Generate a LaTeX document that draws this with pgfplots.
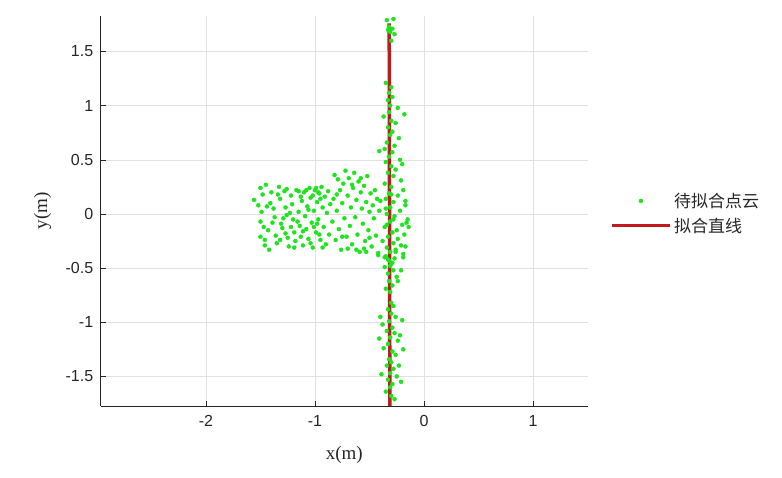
\documentclass[border=0pt]{standalone}
\usepackage{pgfplots}
\pgfplotsset{compat=1.18}
\usepackage{fontspec}
\setmainfont{Liberation Sans}
\newfontfamily\seriffont{Liberation Serif}
\newfontfamily\cjk{Noto Sans CJK SC}
\definecolor{ptgreen}{RGB}{30,228,30}
\definecolor{linered}{RGB}{195,24,28}
\definecolor{txt}{RGB}{38,38,38}
\definecolor{gridc}{RGB}{225,225,225}
\pgfplotsset{
  markleg/.style={legend image code/.code={\draw[##1, mark repeat=2, mark phase=2] plot coordinates {(0pt,0pt) (29pt,0pt) (58pt,0pt)};}},
  lineleg/.style={legend image code/.code={\draw[##1] (0pt,0pt) -- (58pt,0pt);}},
}
\begin{document}
\begin{tikzpicture}
\useasboundingbox (-100.7pt,-72pt) rectangle (681.3pt,406pt);
\begin{axis}[
  scale only axis,
  width=487.3pt, height=390pt,
  xmin=-2.966, xmax=1.505,
  ymin=-1.773, ymax=1.828,
  axis lines*=left,
  axis line style={txt, line width=0.8pt},
  xtick={-2,-1,0,1},
  ytick={-1.5,-1,-0.5,0,0.5,1,1.5},
  yticklabels={-1.5,-1,-0.5,0,0.5,1,1.5},
  xticklabels={-2,-1,0,1},
  tick align=inside,
  major tick length=5pt,
  tick style={txt, line width=0.6pt},
  grid=major,
  major grid style={gridc, line width=0.6pt},
  /pgf/number format/assume math mode=true,
  ticklabel style={font=\fontsize{16}{18}\selectfont, text=txt},
  xticklabel style={yshift=-6pt},
  yticklabel style={xshift=-4pt},
  xlabel={x(m)}, ylabel={y(m)},
  label style={font=\seriffont\fontsize{19}{21}\selectfont, text=txt},
  xlabel style={at={(axis description cs:0.5,0)}, anchor=center, yshift=-49pt},
  ylabel style={at={(axis description cs:-0.119,0.5)}, anchor=center},
  legend style={at={(1.039,0.494)}, anchor=west, draw=none, fill=none,
    font=\cjk\fontsize{17}{19}\selectfont, text=txt, row sep=4pt,
    nodes={inner sep=2.5pt}, cells={anchor=west}},
  clip=true,
]
\addplot[only marks, mark=*, mark size=2pt, color=ptgreen, markleg]
coordinates {
(-1.56,0.13) (-1.50,0.24) (-1.45,0.27) (-1.48,0.18) (-1.52,0.08) (-1.49,0.02)
(-1.50,-0.07) (-1.47,-0.12) (-1.50,-0.21) (-1.46,-0.24) (-1.42,-0.33) (-1.43,-0.15)
(-1.41,0.10) (-1.40,0.20) (-1.38,0.05) (-1.37,-0.03) (-1.36,-0.20) (-1.35,-0.27)
(-1.33,0.25) (-1.32,0.14) (-1.31,-0.09) (-1.30,-0.13) (-1.28,0.21) (-1.27,0.06)
(-1.26,-0.01) (-1.25,-0.22) (-1.24,-0.30) (-1.22,0.17) (-1.21,0.09) (-1.20,-0.05)
(-1.19,-0.17) (-1.18,-0.25) (-1.17,0.22) (-1.15,0.02) (-1.14,-0.11) (-1.13,-0.21)
(-1.12,0.12) (-1.11,-0.29) (-1.10,0.20) (-1.09,-0.02) (-1.08,-0.14) (-1.07,0.07)
(-1.06,-0.23) (-1.05,0.24) (-1.04,0.15) (-1.03,-0.08) (-1.02,-0.31) (-1.01,0.03)
(-1.00,0.22) (-0.99,-0.17) (-0.98,0.11) (-0.97,-0.05) (-0.96,0.19) (-0.95,-0.24)
(-0.94,0.25) (-0.93,0.06) (-0.92,-0.12) (-0.91,0.16) (-0.90,-0.28) (-0.89,0.01)
(-0.88,0.21) (-0.87,-0.19) (-0.86,0.09)
(-1.34,0.18) (-1.29,-0.04) (-1.23,0.01) (-1.16,-0.07) (-1.13,0.16) (-1.06,0.04)
(-1.02,0.17) (-0.99,0.24) (-0.97,0.20) (-0.95,0.14) (-1.08,0.22) (-1.01,-0.12)
(-0.96,-0.19) (-1.19,-0.31) (-1.27,-0.18) (-1.44,0.07) (-1.39,-0.08) (-1.11,-0.16)
(-1.04,-0.27) (-0.93,-0.31) (-0.98,-0.09) (-1.22,-0.12) (-1.15,0.21) (-1.26,0.23)
(-1.32,-0.24) (-1.46,-0.29)
(-0.84,-0.07) (-0.83,0.14) (-0.82,0.36) (-0.81,-0.24) (-0.80,0.03) (-0.79,0.32)
(-0.78,-0.14) (-0.77,0.22) (-0.76,-0.33) (-0.75,0.10) (-0.74,0.28) (-0.73,-0.04)
(-0.72,0.40) (-0.71,-0.21) (-0.70,0.17) (-0.69,0.33) (-0.68,-0.11) (-0.67,0.06)
(-0.66,-0.28) (-0.65,0.24) (-0.64,0.38) (-0.63,-0.03) (-0.62,0.13) (-0.61,-0.19)
(-0.60,0.30) (-0.59,-0.35) (-0.58,0.20) (-0.57,0.05) (-0.56,-0.09) (-0.55,0.26)
(-0.54,-0.25) (-0.53,0.11) (-0.52,0.35) (-0.51,-0.15) (-0.50,0.02) (-0.49,0.19)
(-0.48,-0.30) (-0.47,0.08) (-0.46,-0.04) (-0.45,0.22) (-0.44,-0.20) (-0.43,0.14)
(-0.42,-0.36) (-0.41,0.03)
(-0.70,-0.32) (-0.62,-0.33) (-0.55,-0.32) (-0.50,-0.22) (-0.58,0.33) (-0.66,0.27)
(-0.75,-0.21) (-0.80,0.18) (-0.53,-0.35)
(-0.34,1.79) (-0.28,1.80) (-0.33,1.70) (-0.29,1.71) (-0.31,1.68) (-0.27,1.66)
(-0.30,1.60) (-0.32,1.73)
(-0.35,1.21) (-0.30,1.17) (-0.32,1.12) (-0.29,1.08) (-0.33,1.05) (-0.31,1.00)
(-0.24,0.98) (-0.32,0.94) (-0.37,0.90) (-0.30,0.86) (-0.26,0.84) (-0.33,0.80)
(-0.29,0.76) (-0.31,0.73) (-0.23,0.70) (-0.34,0.66) (-0.27,0.63) (-0.36,0.60)
(-0.29,0.57) (-0.32,0.53) (-0.22,0.50) (-0.35,0.48) (-0.30,0.44) (-0.26,0.41)
(-0.33,0.38) (-0.28,0.35) (-0.21,0.31) (-0.36,0.28) (-0.30,0.25) (-0.19,0.22)
(-0.32,0.19) (-0.24,0.17) (-0.35,0.14) (-0.28,0.11) (-0.17,0.08) (-0.31,0.06)
(-0.22,0.03) (-0.34,0.00) (-0.27,-0.02) (-0.15,-0.05) (-0.31,-0.07) (-0.20,-0.10)
(-0.36,-0.12) (-0.25,-0.15) (-0.29,-0.17) (-0.18,-0.19) (-0.33,-0.21) (-0.24,-0.23)
(-0.38,-0.25) (-0.28,-0.27) (-0.21,-0.29) (-0.34,-0.31) (-0.26,-0.33) (-0.31,-0.35)
(-0.19,-0.37) (-0.35,-0.39) (-0.27,-0.41) (-0.32,-0.43) (-0.30,-0.46) (-0.36,-0.49)
(-0.28,-0.52) (-0.33,-0.55) (-0.25,-0.58) (-0.32,-0.62) (-0.29,-0.66) (-0.35,-0.69)
(-0.31,-0.72)
(-0.30,-0.82) (-0.28,-0.85) (-0.33,-0.88) (-0.30,-0.92) (-0.26,-0.95) (-0.32,-0.99)
(-0.38,-1.02) (-0.29,-1.05) (-0.34,-1.08) (-0.27,-1.10) (-0.31,-1.14) (-0.24,-1.17)
(-0.33,-1.20) (-0.37,-1.24) (-0.29,-1.27) (-0.26,-1.30) (-0.32,-1.34) (-0.30,-1.37)
(-0.34,-1.40) (-0.28,-1.43) (-0.31,-1.47) (-0.25,-1.50) (-0.33,-1.53) (-0.29,-1.57)
(-0.31,-1.60) (-0.35,-1.64) (-0.30,-1.68) (-0.27,-1.71)
(-0.18,0.92) (-0.20,0.46) (-0.17,0.12) (-0.16,-0.08) (-0.14,-0.12) (-0.17,-0.30)
(-0.19,-0.40) (-0.21,-0.52) (-0.24,-0.62) (-0.20,-0.98) (-0.22,-1.12) (-0.19,-1.25)
(-0.23,-1.40) (-0.21,-1.55)
(-0.41,0.58) (-0.40,0.12) (-0.42,-0.38) (-0.40,-0.95) (-0.41,-1.15) (-0.39,-1.48)
(-0.33,-0.42) (-0.29,-0.45) (-0.36,-0.40) (-0.26,-0.35) (-0.31,-0.48) (-0.34,-0.10)
(-0.28,-0.05) (-0.35,0.05) (-0.30,0.18)
};
\addlegendentry{待拟合点云}
\addplot[color=linered, line width=3.5pt, lineleg]
coordinates {(-0.319,1.76) (-0.313,-1.80)};
\addlegendentry{拟合直线}
\end{axis}
\end{tikzpicture}
\end{document}
